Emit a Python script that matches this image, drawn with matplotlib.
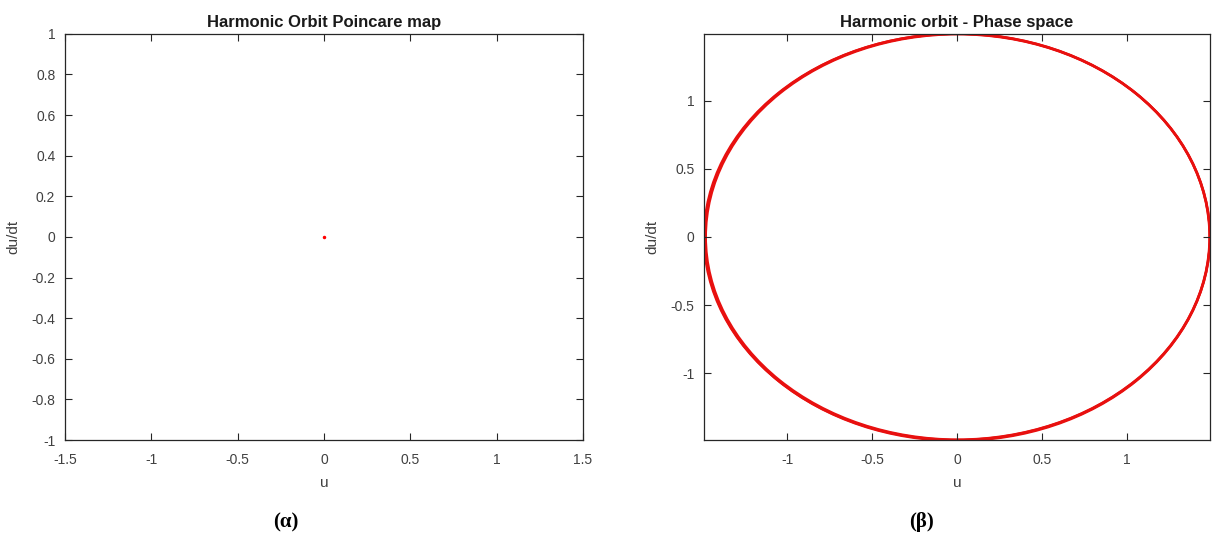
import matplotlib.pyplot as plt
from matplotlib.patches import Ellipse

plt.rcParams['font.family'] = ['Liberation Sans', 'DejaVu Sans']

# Poincare map: single fixed point
poinc_u = [0.0]
poinc_v = [0.0]

# Phase space orbit: ellipse centres and semi-axes (u, du/dt)
orbit_cx = [0.0, 0.002, 0.004]
orbit_cy = [0.0, -0.002, 0.0]
orbit_au = [1.49, 1.487, 1.484]
orbit_av = [1.49, 1.493, 1.487]

left_xticks = [-1.5, -1, -0.5, 0, 0.5, 1, 1.5]
left_yticks = [-1, -0.8, -0.6, -0.4, -0.2, 0, 0.2, 0.4, 0.6, 0.8, 1]
right_ticks = [-1, -0.5, 0, 0.5, 1]

GRAY = '#262626'


def style(ax):
    for sp in ax.spines.values():
        sp.set_color(GRAY)
        sp.set_linewidth(0.9)
    ax.tick_params(direction='in', length=5, width=0.8, colors=GRAY,
                   labelsize=10, top=True, right=True, pad=7)
    ax.tick_params(axis='x', pad=9)
    for lab in ax.get_xticklabels() + ax.get_yticklabels():
        lab.set_color('#404040')


fig = plt.figure(figsize=(12.13, 5.36), dpi=100)
ax1 = fig.add_axes([0.0536, 0.179, 0.427, 0.758])
ax2 = fig.add_axes([0.5804, 0.179, 0.4171, 0.758])

# left panel
ax1.plot(poinc_u, poinc_v, '.', color='red', markersize=3)
ax1.set_xlim(-1.5, 1.5)
ax1.set_ylim(-1, 1)
ax1.set_xticks(left_xticks)
ax1.set_xticklabels(['%g' % v for v in left_xticks])
ax1.set_yticks(left_yticks)
ax1.set_yticklabels(['%g' % v for v in left_yticks])
ax1.set_title('Harmonic Orbit Poincare map', fontsize=12, fontweight='bold',
              color='#1a1a1a', pad=5)
ax1.set_xlabel('u', fontsize=11, color='#404040', labelpad=7)
ax1.set_ylabel('du/dt', fontsize=11, color='#404040', labelpad=8)
style(ax1)

# right panel
for cx, cy, au, av in zip(orbit_cx, orbit_cy, orbit_au, orbit_av):
    ax2.add_patch(Ellipse((cx, cy), 2 * au, 2 * av, fill=False,
                          edgecolor='#e8100f', linewidth=1.8))
ax2.set_xlim(-1.49, 1.49)
ax2.set_ylim(-1.49, 1.49)
ax2.set_xticks(right_ticks)
ax2.set_xticklabels(['%g' % v for v in right_ticks])
ax2.set_yticks(right_ticks)
ax2.set_yticklabels(['%g' % v for v in right_ticks])
ax2.set_title('Harmonic orbit - Phase space', fontsize=12, fontweight='bold',
              color='#1a1a1a', pad=5)
ax2.set_xlabel('u', fontsize=11, color='#404040', labelpad=7)
ax2.set_ylabel('du/dt', fontsize=11, color='#404040', labelpad=8)
style(ax2)

# panel captions
fig.text(286 / 1213, 1 - 522 / 536, '(α)', ha='center', va='center',
         fontsize=15, fontweight='bold', family=['Liberation Serif', 'DejaVu Serif'])
fig.text(921 / 1213, 1 - 522 / 536, '(β)', ha='center', va='center',
         fontsize=15, fontweight='bold', family=['Liberation Serif', 'DejaVu Serif'])

plt.savefig('out.png', dpi=100)
